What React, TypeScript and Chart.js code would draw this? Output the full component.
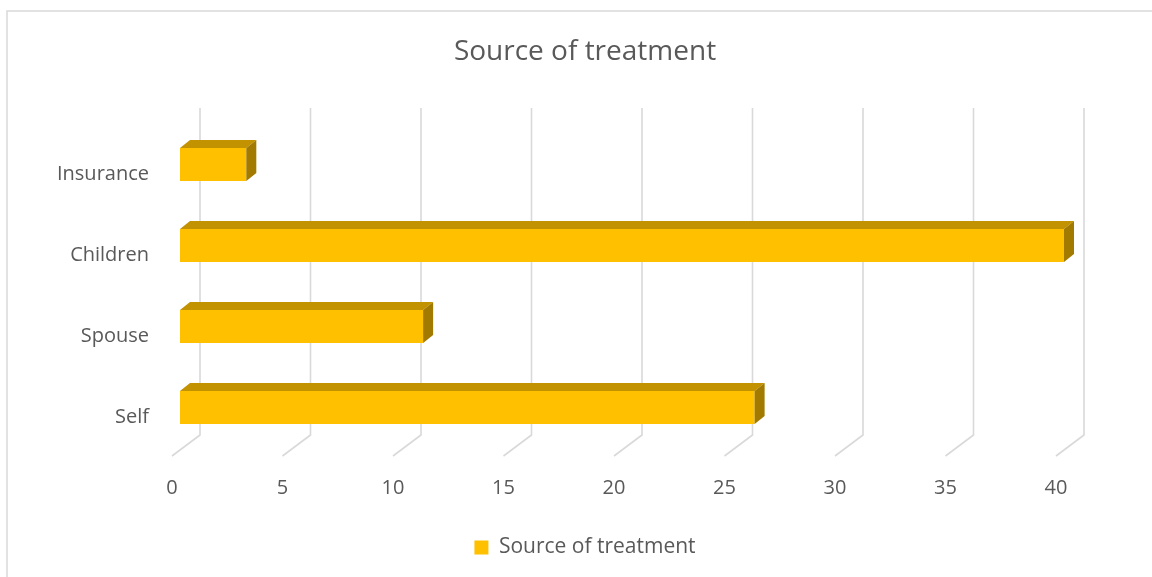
import React, { useEffect, useRef } from "react";
import { Chart, registerables } from "chart.js";

Chart.register(...registerables);

const chartTitle = "Source of treatment";
const seriesName = "Source of treatment";
const categories = ["Self", "Spouse", "Children", "Insurance"];
const values = [26, 11, 40, 3];
const xTicks = [0, 5, 10, 15, 20, 25, 30, 35, 40];

const FRONT = "#FFC000";
const TOP = "#C29200";
const SIDE = "#A27A00";
const GRID = "#D9D9D9";
const TEXT = "#595959";
const FONT = "'Open Sans', sans-serif";

// 3D geometry: bar front face offset and bar depth, plus wall depth
const BAR_DX = 8;
const BAR_DY = -6;
const DEPTH_DX = 10;
const DEPTH_DY = -8;
const WALL_DX = 28;

const bar3d = {
  id: "bar3d",
  beforeDraw(chart: any) {
    const { ctx, width, height } = chart;
    ctx.save();
    ctx.fillStyle = "#ffffff";
    ctx.fillRect(0, 0, width, height);
    ctx.strokeStyle = GRID;
    ctx.lineWidth = 1.5;
    ctx.strokeRect(7, 11, width + 100, height + 100);
    ctx.restore();
  },
  beforeDatasetsDraw(chart: any) {
    const { ctx, chartArea, scales } = chart;
    const xs = scales.x;
    const backTop = chartArea.top - 22;
    const backBottom = chartArea.bottom - 19;
    const front = chartArea.bottom + 2;
    ctx.save();
    ctx.strokeStyle = GRID;
    ctx.lineWidth = 1.6;
    xTicks.forEach((v) => {
      const x = xs.getPixelForValue(v);
      ctx.beginPath();
      ctx.moveTo(x + WALL_DX, backTop);
      ctx.lineTo(x + WALL_DX, backBottom);
      ctx.lineTo(x, front);
      ctx.stroke();
    });
    ctx.restore();
    ctx.save();
    ctx.translate(BAR_DX, BAR_DY);
  },
  afterDatasetsDraw(chart: any) {
    const { ctx } = chart;
    ctx.restore();
    const meta = chart.getDatasetMeta(0);
    ctx.save();
    meta.data.forEach((el: any) => {
      const p = el.getProps(["x", "y", "base", "height"], true);
      const x0 = Math.min(p.base, p.x) + BAR_DX;
      const x1 = Math.max(p.base, p.x) + BAR_DX;
      const top = p.y - p.height / 2 + BAR_DY;
      const bottom = p.y + p.height / 2 + BAR_DY;
      // top face
      ctx.fillStyle = TOP;
      ctx.beginPath();
      ctx.moveTo(x0, top);
      ctx.lineTo(x1, top);
      ctx.lineTo(x1 + DEPTH_DX, top + DEPTH_DY);
      ctx.lineTo(x0 + DEPTH_DX, top + DEPTH_DY);
      ctx.closePath();
      ctx.fill();
      // side face
      ctx.fillStyle = SIDE;
      ctx.beginPath();
      ctx.moveTo(x1, top);
      ctx.lineTo(x1 + DEPTH_DX, top + DEPTH_DY);
      ctx.lineTo(x1 + DEPTH_DX, bottom + DEPTH_DY);
      ctx.lineTo(x1, bottom);
      ctx.closePath();
      ctx.fill();
    });
    ctx.restore();
  },
};

export default function App() {
  const canvasRef = useRef<HTMLCanvasElement | null>(null);

  useEffect(() => {
    const canvas = canvasRef.current;
    if (!canvas) return;
    const chart = new Chart(canvas, {
      type: "bar",
      data: {
        labels: categories,
        datasets: [
          {
            label: seriesName,
            data: values,
            backgroundColor: FRONT,
            borderWidth: 0,
            categoryPercentage: 1,
            barPercentage: 0.41,
            clip: false as any,
          },
        ],
      },
      options: {
        indexAxis: "y",
        responsive: false,
        animation: false,
        devicePixelRatio: 1,
        layout: { padding: { left: 0, right: 0, top: 0, bottom: 9 } },
        scales: {
          x: {
            type: "linear",
            min: 0,
            max: 40,
            afterBuildTicks: (s: any) => {
              s.ticks = xTicks.map((v) => ({ value: v }));
            },
            afterFit: (s: any) => {
              s.height = 73;
            },
            grid: { display: false, drawTicks: false },
            border: { display: false },
            ticks: { color: TEXT, font: { family: FONT, size: 20 }, padding: 22 },
          },
          y: {
            reverse: true,
            afterFit: (s: any) => {
              s.width = 172;
            },
            grid: { display: false, drawTicks: false },
            border: { display: false },
            ticks: {
              color: TEXT,
              font: { family: FONT, size: 20 },
              padding: 23,
              labelOffset: 4,
            },
          },
          // empty right-hand margin of the plot (keeps title and legend centred on the frame)
          yRight: {
            type: "category",
            position: "right",
            labels: categories,
            afterFit: (s: any) => {
              s.width = 114;
            },
            grid: { display: false, drawTicks: false },
            border: { display: false },
            ticks: { display: false },
          },
        },
        plugins: {
          title: {
            display: true,
            text: chartTitle,
            color: TEXT,
            font: { family: FONT, size: 28, weight: "normal" },
            padding: { top: 35, bottom: 61.4 },
          },
          legend: {
            display: true,
            position: "bottom",
            labels: {
              color: TEXT,
              font: { family: FONT, size: 21 },
              boxWidth: 14,
              boxHeight: 14,
              padding: 10,
            },
          },
          tooltip: { enabled: false },
        },
      },
      plugins: [bar3d],
    });
    return () => chart.destroy();
  }, []);

  return (
    <div
      style={{
        position: "fixed",
        left: 0,
        top: 0,
        width: 1152,
        height: 577,
        overflow: "hidden",
        background: "#fff",
      }}
    >
      <canvas ref={canvasRef} width={1170} height={577} style={{ display: "block" }} />
    </div>
  );
}
